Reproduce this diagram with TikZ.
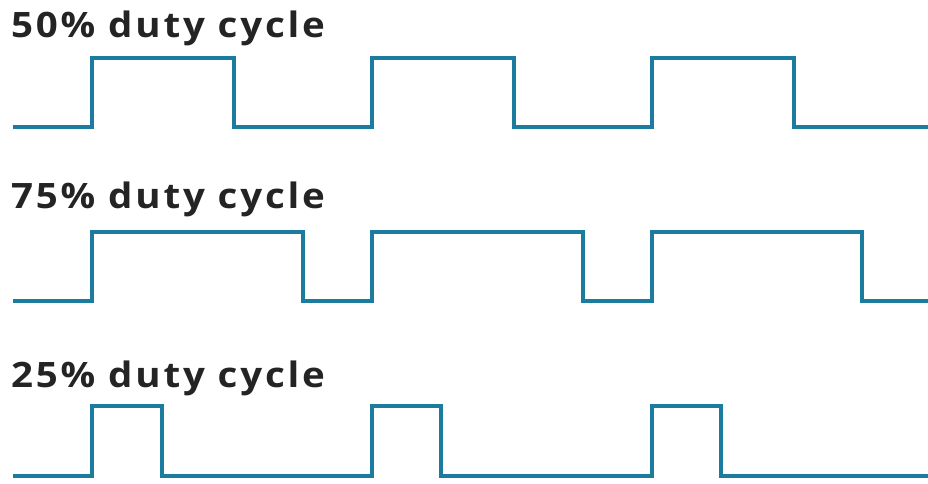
\documentclass[tikz,border=0pt]{standalone}
\usepackage{fontspec}
\setmainfont{Open Sans}
\newfontfamily\lblfont[FakeStretch=1.1,LetterSpace=8]{Open Sans Bold}
\definecolor{wave}{RGB}{28,124,160}
\definecolor{txt}{RGB}{36,36,36}
\begin{document}
\begin{tikzpicture}[x=1pt,y=-1pt,
  lbl/.style={anchor=base west,inner sep=0pt,text=txt,font=\lblfont\fontsize{35}{35}\selectfont},
  sig/.style={draw=wave,line width=4.2pt,line join=miter}]
\useasboundingbox (0,0) rectangle (928,483);
\node[lbl] (l50) at (11,37) {50\% duty cycle};
\node[lbl] (l75) at (11,208) {75\% duty cycle};
\node[lbl] (l25) at (11,387) {25\% duty cycle};
% 50%
\draw[sig] (13,127) -- (92,127) -- (92,58) -- (234,58) -- (234,127) -- (372,127) -- (372,58) -- (514,58) -- (514,127) -- (652,127) -- (652,58) -- (794,58) -- (794,127) -- (928,127);
% 75%
\draw[sig] (13,301) -- (92,301) -- (92,232) -- (303,232) -- (303,301) -- (372,301) -- (372,232) -- (583,232) -- (583,301) -- (652,301) -- (652,232) -- (862,232) -- (862,301) -- (928,301);
% 25%
\draw[sig] (13,476) -- (92,476) -- (92,406) -- (162,406) -- (162,476) -- (372,476) -- (372,406) -- (441,406) -- (441,476) -- (652,476) -- (652,406) -- (721,406) -- (721,476) -- (928,476);
\end{tikzpicture}
\end{document}
